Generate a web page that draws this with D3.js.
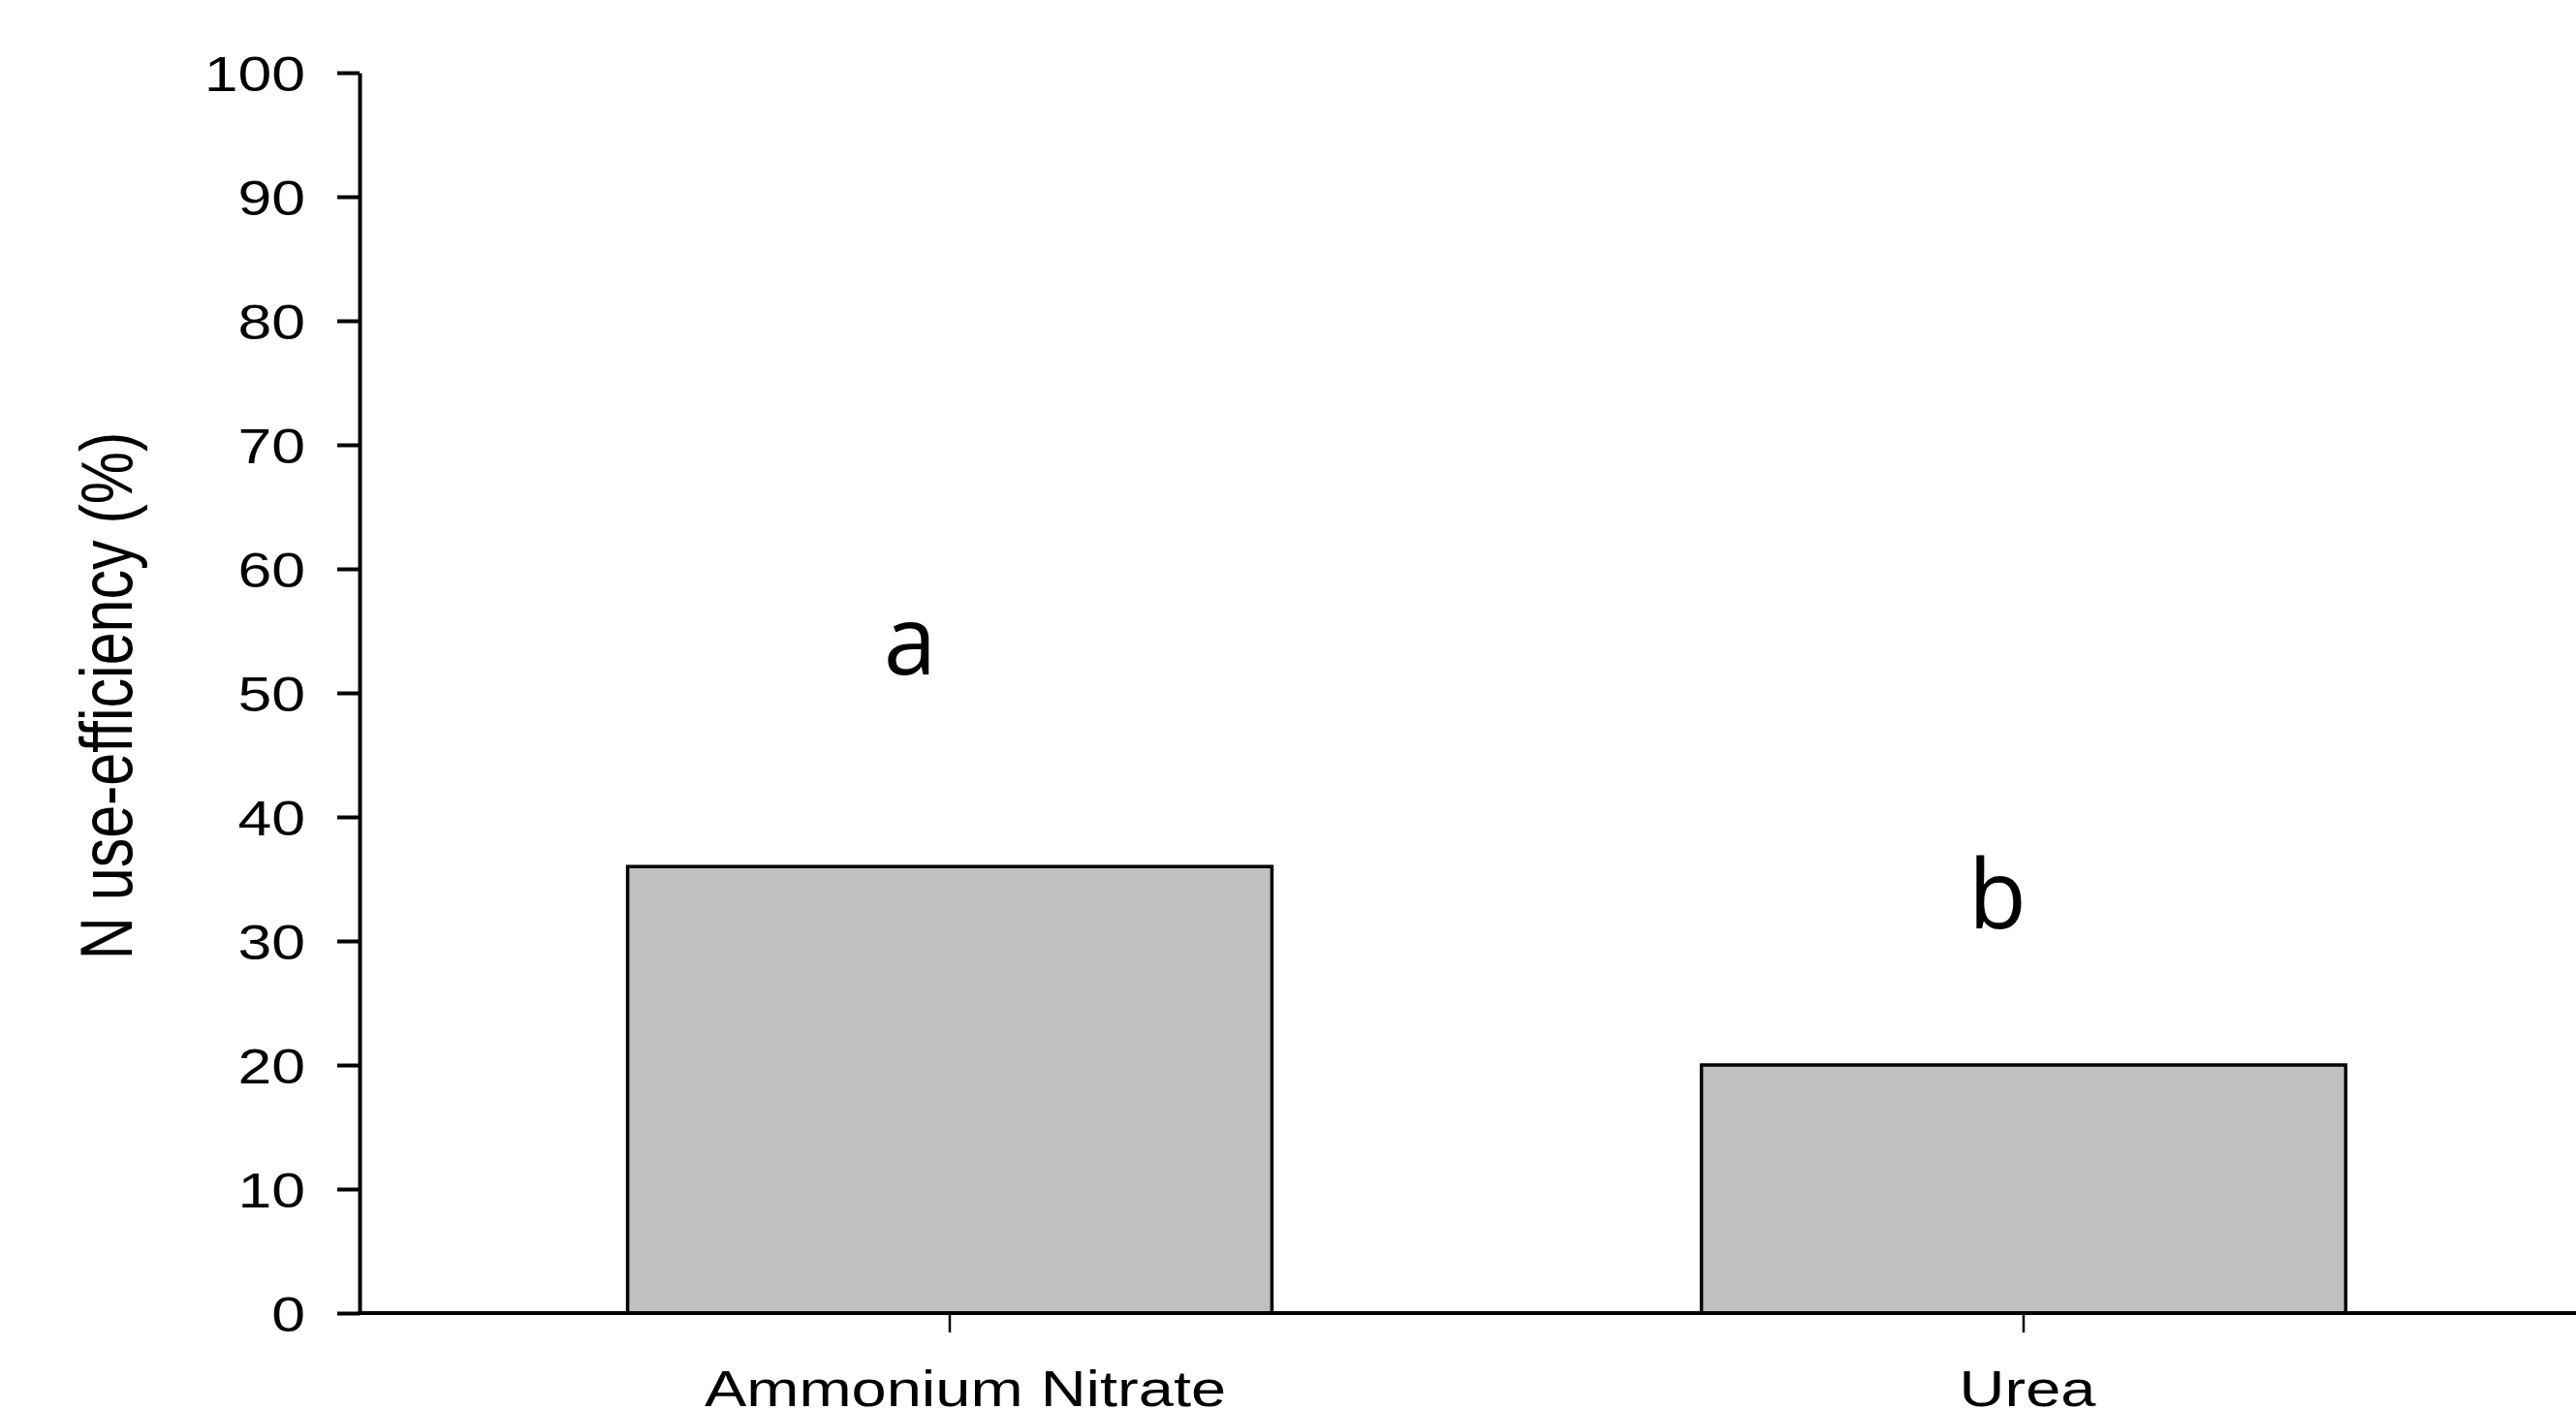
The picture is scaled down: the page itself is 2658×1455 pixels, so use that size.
<html>
    <head>
        <title>N use-efficiency</title>
        <style>
            body { margin: 0; background: #fff; }
        </style>
    </head>
    <body>
        <svg id="container" width="2658" height="1455"></svg>
    </body>
    <script src="https://d3js.org/d3.v7.min.js"></script>
    <script>
        // data
        let fertilizers = ["Ammonium Nitrate", "Urea"]
        let efficiency = [36, 20]
        let letters = ["a", "b"]
        let letterLevel = [51.5, 31]
        let yTicks = [0, 10, 20, 30, 40, 50, 60, 70, 80, 90, 100]

        // the original figure is stretched sideways, so text gets widened too
        let stretch = 1.25
        let width = 2658
        let axisX = 371

        let container = d3.select("#container")

        let yScale = d3.scaleLinear()
                        .domain([0, 100])
                        .range([1355, 75])

        let xScale = d3.scaleBand()
                        .domain(fertilizers)
                        .range([426, 2642])
                        .paddingInner(0.4)
                        .paddingOuter(0.2)

        let rows = fertilizers.map((name, i) => ({name: name, value: efficiency[i], letter: letters[i], level: letterLevel[i]}))

        function widen(sel) {
            sel.each(function() {
                let len = this.getComputedTextLength()
                d3.select(this)
                  .attr("textLength", len * stretch)
                  .attr("lengthAdjust", "spacingAndGlyphs")
            })
        }

        container.selectAll("rect.bar")
                 .data(rows)
                 .enter()
                 .append("rect")
                 .attr("class", "bar")
                 .attr("x", d => xScale(d.name))
                 .attr("width", xScale.bandwidth())
                 .attr("y", d => yScale(d.value))
                 .attr("height", d => yScale(0) - yScale(d.value))
                 .attr("fill", "#c0c0c0")
                 .attr("stroke", "#000")
                 .attr("stroke-width", 3.5)

        // y axis
        let yAxis = container.append("g")
                 .attr("transform", `translate(${axisX},0)`)
                 .call(d3.axisLeft(yScale).tickValues(yTicks).tickSize(23).tickSizeOuter(0).tickPadding(33))
        yAxis.select(".domain").attr("stroke-width", 4)
        yAxis.selectAll(".tick line").attr("stroke-width", 4)
        yAxis.selectAll(".tick text")
             .attr("font-family", "Liberation Sans, Arial, sans-serif")
             .attr("font-size", 50)
             .attr("fill", "#000")
             .attr("dy", "0.36em")
             .call(widen)

        // x axis
        let xAxis = container.append("g")
                 .attr("transform", `translate(0,${yScale(0)})`)
                 .call(d3.axisBottom(xScale).tickSize(20).tickPadding(39))
        xAxis.select(".domain").remove()
        xAxis.selectAll(".tick line").attr("stroke-width", 2.5)
        xAxis.selectAll(".tick text")
             .attr("font-family", "Liberation Sans, Arial, sans-serif")
             .attr("font-size", 52)
             .attr("fill", "#000")
             .attr("x", (d, i) => i == 0 ? 16 : 4)
             .call(widen)

        container.append("line")
                 .attr("x1", axisX - 2)
                 .attr("x2", width)
                 .attr("y1", yScale(0))
                 .attr("y2", yScale(0))
                 .attr("stroke", "#000")
                 .attr("stroke-width", 4)

        // significance letters
        let letterShift = [-41, -27]
        container.selectAll("text.letter")
                 .data(rows)
                 .enter()
                 .append("text")
                 .attr("class", "letter")
                 .attr("x", (d, i) => xScale(d.name) + xScale.bandwidth() / 2 + letterShift[i])
                 .attr("y", d => yScale(d.level))
                 .attr("text-anchor", "middle")
                 .attr("font-family", "Open Sans, sans-serif")
                 .attr("font-size", 98)
                 .attr("fill", "#000")
                 .text(d => d.letter)

        // y title
        container.append("text")
                 .attr("transform", `translate(136,${yScale(50) + 3}) scale(${stretch},1) rotate(-90)`)
                 .attr("text-anchor", "middle")
                 .attr("font-family", "Liberation Sans, Arial, sans-serif")
                 .attr("font-size", 61)
                 .attr("fill", "#000")
                 .text("N use-efficiency (%)")
    </script>
</html>
